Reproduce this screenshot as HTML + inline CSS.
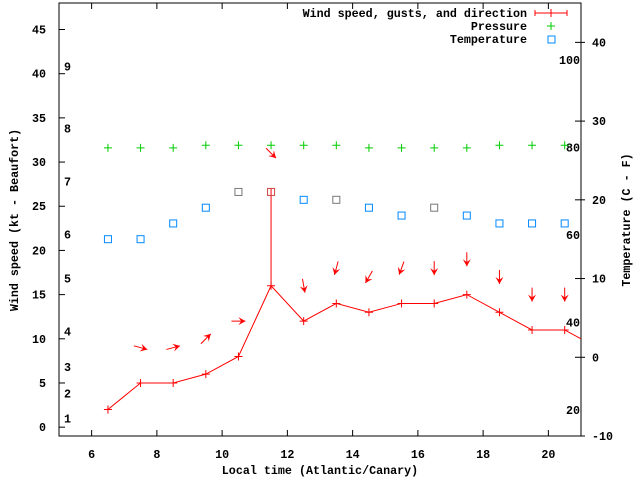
<!DOCTYPE html>
<html><head><meta charset="utf-8"><style>
html,body{margin:0;padding:0;background:#fff;}
svg{display:block;font-family:"Liberation Mono",monospace;font-size:11.7px;font-weight:bold;}
</style></head><body>
<svg id="chart" width="640" height="480" viewBox="0 0 640 480" xmlns="http://www.w3.org/2000/svg"></svg>
<script>
const hours = [6.5,7.5,8.5,9.5,10.5,11.5,12.5,13.5,14.5,15.5,16.5,17.5,18.5,19.5,20.5,21.5];
const windSpeed = [2,5,5,6,8,16,12,14,13,14,14,15,13,11,11,9];
const gusts = [null,null,null,null,null,27,null,null,null,null,null,null,null,null,null,null];
const windFrom = [null,285,255,225,270,315,350,15,30,20,0,0,0,0,0,null];
const pressure = [31.6,31.6,31.6,31.9,31.9,31.9,31.9,31.9,31.6,31.6,31.6,31.6,31.9,31.9,31.9];
const temperature = [15,15,17,19,21,21,20,20,19,18,19,18,17,17,17];
const xTicks = [6,8,10,12,14,16,18,20];
const yTicks = [0,5,10,15,20,25,30,35,40,45];
const tTicks = [-10,0,10,20,30,40];
const fTicks = [20,40,60,80,100];
const beaufort = [[1,1],[2,3.8],[3,6.8],[4,10.8],[5,16.8],[6,21.8],[7,27.8],[8,33.8],[9,40.8]];

const L=59,R=581,T=3,B=436;
const X=v=>L+(v-5)/16*(R-L);
const Y=v=>B-(v+1)/49*(B-T);
const TY=c=>B-(c+10)/55*(B-T);
const svg=document.getElementById('chart');
const NS='http://www.w3.org/2000/svg';
function el(tag,attrs,parent){const e=document.createElementNS(NS,tag);for(const k in attrs)e.setAttribute(k,attrs[k]);(parent||svg).appendChild(e);return e;}
function txt(x,y,s,anchor,extra){const t=el('text',Object.assign({x:x,y:y,'text-anchor':anchor||'start'},extra||{}));t.textContent=s;return t;}

const clip=el('clipPath',{id:'pc'});el('rect',{x:L,y:T,width:R-L,height:B-T},clip);

// frame
const frame=el('rect',{x:L,y:T,width:R-L,height:B-T,fill:'none',stroke:'#000','stroke-width':1});



xTicks.forEach(v=>{
  const x=X(v);
  el('line',{x1:x,y1:B,x2:x,y2:B-6,stroke:'#000'});
  el('line',{x1:x,y1:T,x2:x,y2:T+6,stroke:'#000'});
  const t=txt(x,458,String(v),'middle');
  
  
});
yTicks.forEach(v=>{
  const y=Y(v);
  el('line',{x1:L,y1:y,x2:L+6,y2:y,stroke:'#000'});
  const t=txt(46,y+4,String(v),'end');
  
  
});
tTicks.forEach(v=>{
  const y=TY(v);
  el('line',{x1:R-6,y1:y,x2:R+4,y2:y,stroke:'#000'});
  const t=txt(592,y+4,String(v),'start');
  
  
});
fTicks.forEach(v=>{
  const c=(v-32)*5/9;
  const t=txt(580,TY(c)+4,String(v),'end');
  
  
});
beaufort.forEach(b=>{
  const t=txt(64,Y(b[1])+4,String(b[0]),'start');
  
  
});

let t=txt(320,474,'Local time (Atlantic/Canary)','middle');


t=txt(0,0,'Wind speed (kt - Beaufort)','middle',{transform:'translate(18,220) rotate(-90)'});


t=txt(0,0,'Temperature (C - F)','middle',{transform:'translate(630,220) rotate(-90)'});



const g=el('g',{'clip-path':'url(#pc)'});
// wind line
const pts=hours.map((h,i)=>X(h)+','+Y(windSpeed[i])).join(' ');
const wl=el('polyline',{points:pts,fill:'none',stroke:'#f00','stroke-width':1},g);


hours.forEach((h,i)=>{
  const x=X(h),y=Y(windSpeed[i]);
  const p=el('path',{d:`M${x-4},${y}H${x+4}M${x},${y-4}V${y+4}`,stroke:'#f00'},g);
  
  
  if(gusts[i]!=null){
    const gl=el('line',{x1:x,y1:y,x2:x,y2:Y(gusts[i]),stroke:'#f00'},g);
    
    
  }
  if(windFrom[i]!=null){
    const base=gusts[i]!=null?gusts[i]:windSpeed[i];
    const cx=x,cy=Y(base+4);
    const a=(windFrom[i]+180)*Math.PI/180;
    const dx=Math.sin(a),dy=-Math.cos(a);
    const len=14;
    const x1=cx-dx*len/2,y1=cy-dy*len/2,x2=cx+dx*len/2,y2=cy+dy*len/2;
    const ag=el('g',{},g);
    
    
    el('line',{x1:x1,y1:y1,x2:x2,y2:y2,stroke:'#f00'},ag);
    const px=-dy,py=dx,h=7,w=4;
    el('polygon',{points:`${x2},${y2} ${x2-dx*h+px*w},${y2-dy*h+py*w} ${x2-dx*h*0.6},${y2-dy*h*0.6} ${x2-dx*h-px*w},${y2-dy*h-py*w}`,fill:'#f00'},ag);
  }
});
pressure.forEach((v,i)=>{
  const x=X(hours[i]),y=Y(v);
  const p=el('path',{d:`M${x-4},${y}H${x+4}M${x},${y-4}V${y+4}`,stroke:'#0c0'},g);
  
  
});
temperature.forEach((v,i)=>{
  const x=X(hours[i]),y=TY(v);
  const r=el('rect',{x:x-3.5,y:y-3.5,width:7,height:7,fill:'none',stroke:i==4||i==5||i==7||i==10?'#777':'#08f'},g);
  if(i==5)r.setAttribute('stroke','#c44');
  
  
});

// legend
const lg=el('g',{});


[['Wind speed, gusts, and direction',17],['Pressure',30],['Temperature',43]].forEach((e,i)=>{
  const tt=txt(527,e[1],e[0],'end');lg.appendChild(tt);
  
  
  const y=e[1]-4,x=551;
  if(i==0){el('path',{d:`M535,${y}H567M535,${y-3}V${y+3}M567,${y-3}V${y+3}M551,${y-4}V${y+4}`,stroke:'#f00'},lg);}
  else if(i==1){el('path',{d:`M${x-4},${y}H${x+4}M${x},${y-4}V${y+4}`,stroke:'#0c0'},lg);}
  else{el('rect',{x:x-3,y:y-3,width:7,height:7,fill:'none',stroke:'#08f'},lg);}
});
</script>
</body></html>
